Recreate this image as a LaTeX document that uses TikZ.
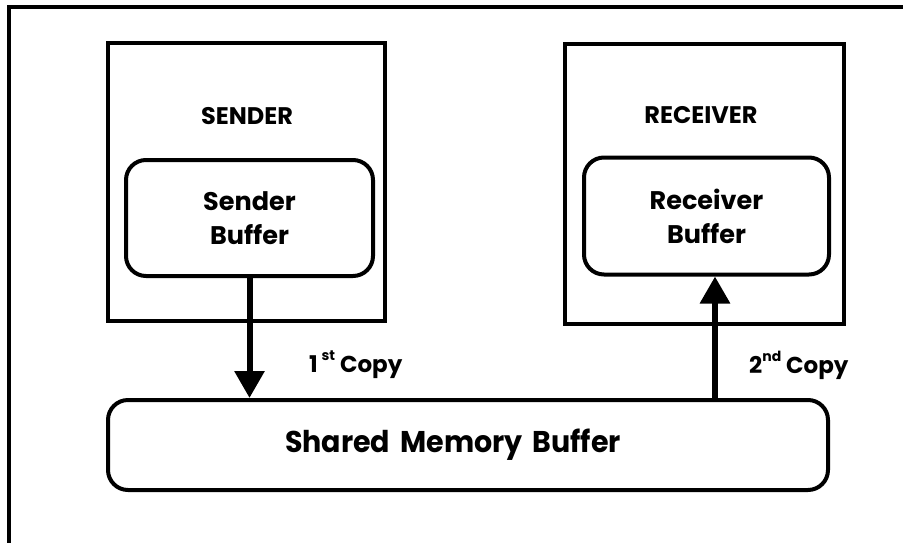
\documentclass[tikz,border=0pt]{standalone}
\usepackage{fontspec}
\setmainfont{Poppins}
\newfontfamily\narrowpop{Poppins}[FakeStretch=0.95]
\usetikzlibrary{arrows.meta}

\tikzset{
  frame/.style={line width=4pt},
  procbox/.style={draw, line width=4pt, rectangle, inner sep=0pt},
  bufbox/.style={draw, line width=4pt, rectangle, rounded corners=20pt, inner sep=0pt,
    align=center, font=\fontsize{25.5}{34}\selectfont\bfseries},
  heading/.style={font=\fontsize{24}{28}\selectfont\bfseries, inner sep=0pt},
  copylabel/.style={font=\fontsize{23}{26}\selectfont\bfseries, inner sep=0pt, anchor=base west},
  flow/.style={line width=6pt, -{Triangle[width=29pt,length=27pt]}},
}
\newcommand{\ordsup}[1]{\raisebox{0.5em}{\fontsize{14}{14}\selectfont #1}}

\begin{document}
\begin{tikzpicture}[x=1pt,y=-1pt]
  \useasboundingbox (0,0) rectangle (903,542);
  \clip (0,0) rectangle (903,542);

  % outer frame, running off the right and bottom edges
  \draw[frame] (9,600) -- (9,7) -- (960,7);

  % processes
  \node[procbox, minimum width=277pt, minimum height=278pt] (sender) at (246.5,182) {};
  \node[procbox, minimum width=279pt, minimum height=280pt] (receiver) at (704.5,184) {};
  \node[heading] (sendertitle) at (247,116) {SENDER};
  \node[heading] (receivertitle) at (701,115) {RECEIVER};

  % private buffers
  \node[bufbox, minimum width=247pt, minimum height=116pt] (senderbuf) at (249.5,218) {Sender\\Buffer};
  \node[bufbox, minimum width=245pt, minimum height=117pt] (recvbuf) at (706.5,216) {Receiver\\Buffer};

  % shared segment
  \node[bufbox, minimum width=720pt, minimum height=90pt, text width=720pt,
        font=\narrowpop\fontsize{30}{34}\selectfont\bfseries] (shared) at (468,445) {\hspace*{-30pt}Shared Memory Buffer};

  % copies
  \coordinate (upx) at (715,0);
  \draw[flow] (senderbuf.south) -- (senderbuf.south |- shared.north);
  \draw[flow] (shared.north -| upx) -- (recvbuf.south -| upx);

  \node[copylabel] (copyone) at (309,372) {1\,\ordsup{st} Copy};
  \node[copylabel] (copytwo) at (749,373) {2\ordsup{nd} Copy};
\end{tikzpicture}
\end{document}
